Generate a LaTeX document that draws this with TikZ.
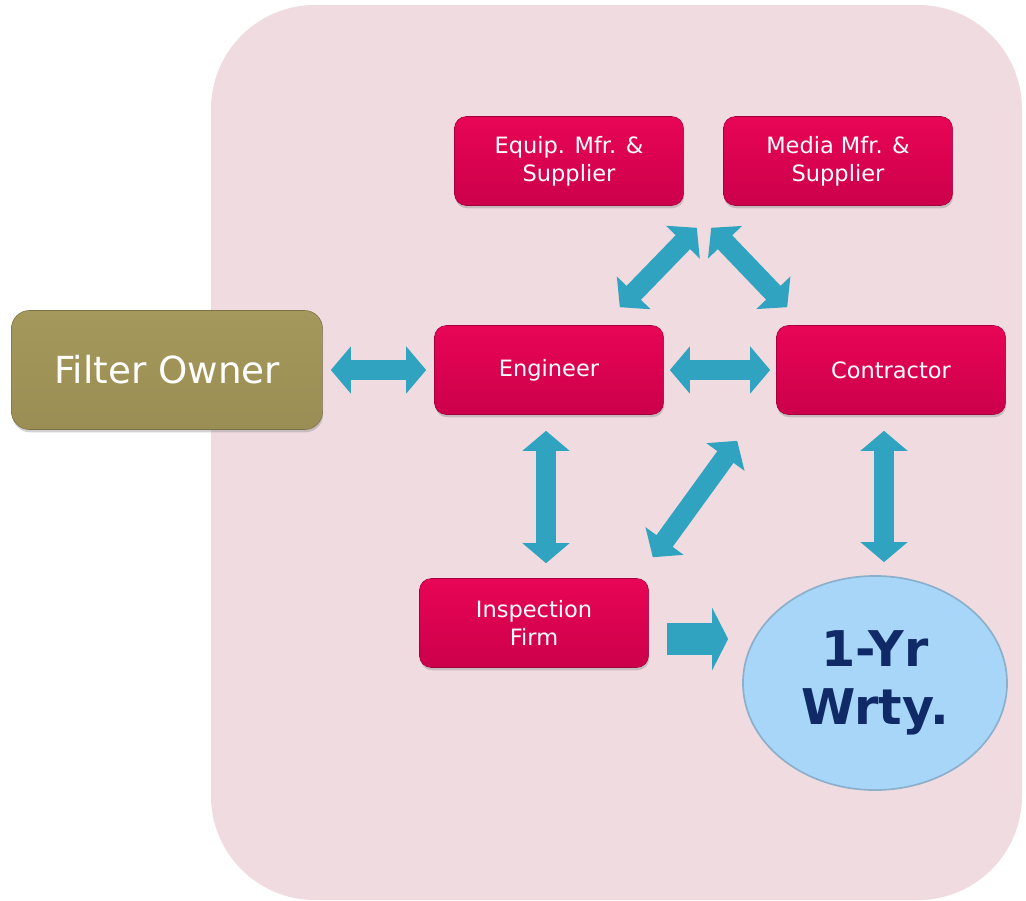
\documentclass[tikz,border=0pt]{standalone}
\usepackage{fontspec}
\setmainfont{DejaVu Sans}
\usetikzlibrary{arrows.meta,shapes.geometric,shadows}

\definecolor{panelpink}{HTML}{F0DCE0}
\definecolor{boxtop}{HTML}{E80555}
\definecolor{boxbot}{HTML}{CC004B}
\definecolor{ownertop}{HTML}{A4985C}
\definecolor{ownerbot}{HTML}{9A8E54}
\definecolor{arrowteal}{HTML}{2FA3C0}
\definecolor{wrtyblue}{HTML}{A8D6F8}
\definecolor{wrtyedge}{HTML}{8CB0CC}
\definecolor{wrtytext}{HTML}{0F2A66}

\tikzset{
  partybox/.style={rounded corners=0.3cm, minimum width=5.725cm, minimum height=2.225cm,
    top color=boxtop, bottom color=boxbot, draw=boxbot!80!black, line width=0.4pt,
    text=white, align=center, font=\fontsize{16}{20}\selectfont,
    drop shadow={shadow xshift=0.5pt, shadow yshift=-2pt, opacity=0.35}},
  ownerbox/.style={rounded corners=0.45cm, minimum width=7.775cm, minimum height=2.975cm,
    top color=ownertop, bottom color=ownerbot, draw=ownerbot!80!black, line width=0.4pt,
    text=white, font=\fontsize{26.5}{30}\selectfont,
    drop shadow={shadow xshift=0.5pt, shadow yshift=-2pt, opacity=0.35}},
  wrtybox/.style={ellipse, minimum width=6.6cm, minimum height=5.35cm, inner sep=0pt,
    fill=wrtyblue, draw=wrtyedge, line width=1.2pt, text=wrtytext, align=center,
    font=\bfseries\fontsize{35}{41}\selectfont},
  biarrow/.style={draw=arrowteal, line width=0.5cm,
    {Triangle[width=1.15cm,length=0.5cm,fill=arrowteal]}-{Triangle[width=1.15cm,length=0.5cm,fill=arrowteal]}},
  onearrow/.style={draw=arrowteal, line width=0.8cm,
    -{Triangle[width=1.55cm,length=0.4cm,fill=arrowteal]}}
}

\begin{document}
\begin{tikzpicture}[x=0.025cm, y=-0.025cm]
    % page frame
    \useasboundingbox (0,0) rectangle (1026,901);
    \fill[white] (0,0) rectangle (1026,901);

    % pink panel
    \fill[panelpink, rounded corners=2.6cm] (211,5) rectangle (1022,900);

    % nodes
    \node[partybox] (equip) at (569,161) {Equip. Mfr. \&\\Supplier};
    \node[partybox] (media) at (838,161) {Media Mfr. \&\\Supplier};
    \node[partybox] (eng) at (549,370) {Engineer};
    \node[partybox] (con) at (891,370) {Contractor};
    \node[partybox] (insp) at (534,623) {Inspection\\Firm};
    \node[ownerbox] (owner) at (167,370) {Filter Owner};
    \node[wrtybox] (wrty) at (875,683) {1-Yr\\Wrty.};

    % two-way links
    \draw[biarrow] ([shift={(8,0)}]owner.east) -- ([shift={(-8,0)}]eng.west);
    \draw[biarrow] ([shift={(6,0)}]eng.east) -- ([shift={(-6,0)}]con.west);
    \draw[biarrow] ([shift={(13,22)}]equip.south east) -- ([shift={(-44,-18)}]eng.north east);
    \draw[biarrow] ([shift={(-12,22)}]media.south west) -- ([shift={(11,-18)}]con.north west);
    \draw[biarrow] ([shift={(-3,16)}]eng.south) -- ([shift={(12,-15)}]insp.north);
    \draw[biarrow] ([shift={(-39,26)}]con.south west) -- ([shift={(4,-21)}]insp.north east);
    \draw[biarrow] ([shift={(-7,16)}]con.south) -- ([shift={(9,-13)}]wrty.north);

    % one-way link
    \draw[onearrow] ([shift={(18,16)}]insp.east) -- ([shift={(-14,-44)}]wrty.west);
\end{tikzpicture}
\end{document}
